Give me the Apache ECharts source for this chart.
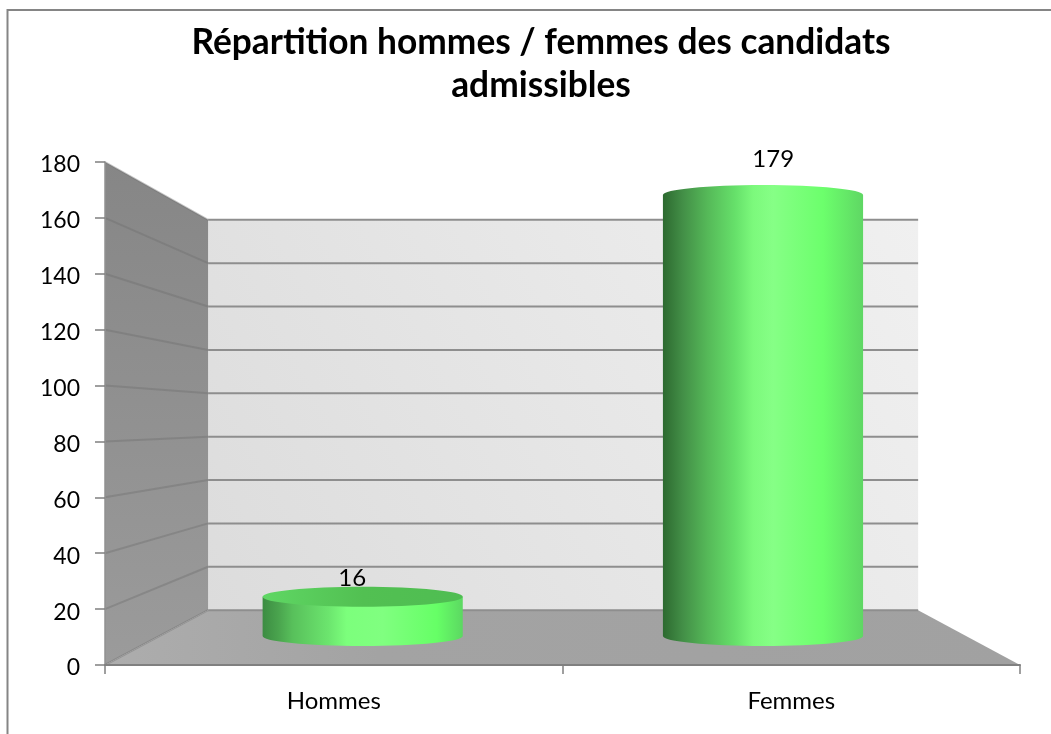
<!DOCTYPE html>
<html>
<head>
<meta charset="utf-8">
<style>
    html, body { margin: 0; padding: 0; background: #fff; }
    #chart { width: 1051px; height: 734px; }
</style>
<script src="https://cdn.jsdelivr.net/npm/echarts@6/dist/echarts.min.js"></script>
</head>
<body>
<div id="chart"></div>
<script>
var titleText = 'Répartition hommes / femmes des candidats\nadmissibles';
var categories = ['Hommes', 'Femmes'];
var values = [16, 179];
var gridValues = [0, 20, 40, 60, 80, 100, 120, 140, 160, 180];

// fake 3D: every depth plane is the front plane shrunk toward a vanishing point
var backDepth = 0.776;
var barDepthX = 0.875;
var barDepthY = 0.882;
var labelDepth = 0.92;
var vanishX = 0.503; // share of grid width
var vanishY = 0.487; // share of grid height, from the bottom

function project(sys, p, depth) {
    var vx = sys.x + sys.width * vanishX;
    var vy = sys.y + sys.height * (1 - vanishY);
    return [vx + (p[0] - vx) * depth, vy + (p[1] - vy) * depth];
}

function horizontal(stops) {
    return new echarts.graphic.LinearGradient(0, 0, 1, 0, stops.map(function (s) {
        return { offset: s[0], color: s[1] };
    }));
}

var tallStops = [
    [0, '#2d6a30'], [0.1, '#438f47'], [0.22, '#55b858'], [0.36, '#66e06a'],
    [0.45, '#7cf97c'], [0.55, '#86ff86'], [0.8, '#6cff6c'], [1, '#5fd764']
];
var flatStops = [
    [0, '#3c8c42'], [0.08, '#4aa44e'], [0.15, '#58c05b'], [0.33, '#6ce56e'],
    [0.42, '#7cff7c'], [0.6, '#80ff80'], [0.87, '#66ff66'], [1, '#5cd862']
];
var flatTopStops = [
    [0, '#5fd764'], [0.5, '#52c052'], [1, '#4fbd52']
];

function renderRoom(params, api) {
    var sys = params.coordSys;
    var fl = [sys.x, sys.y + sys.height];
    var fr = [sys.x + sys.width, sys.y + sys.height];
    var tl = [sys.x, sys.y];
    var tr = [sys.x + sys.width, sys.y];
    var bfl = project(sys, fl, backDepth);
    var bfr = project(sys, fr, backDepth);
    var btl = project(sys, tl, backDepth);
    var btr = project(sys, tr, backDepth);
    return {
        type: 'group',
        silent: true,
        children: [{
            type: 'polygon',
            shape: { points: [bfl, bfr, btr, btl] },
            style: { fill: new echarts.graphic.LinearGradient(0, 1, 1, 0, [
                { offset: 0, color: '#dcdcdc' }, { offset: 1, color: '#f0f0f0' }
            ]) }
        }, {
            type: 'polygon',
            shape: { points: [fl, tl, btl, bfl] },
            style: { fill: new echarts.graphic.LinearGradient(0, 0, 0, 1, [
                { offset: 0, color: '#868686' }, { offset: 1, color: '#9b9b9b' }
            ]) }
        }, {
            type: 'polygon',
            shape: { points: [fl, fr, bfr, bfl] },
            style: { fill: horizontal([[0, '#adadad'], [0.3, '#a3a3a3'], [1, '#a1a1a1']]) }
        }]
    };
}

function renderGridLine(params, api) {
    var sys = params.coordSys;
    var y = api.coord([0, api.value(0)])[1];
    var front = [sys.x, y];
    var back = project(sys, front, backDepth);
    var backEnd = project(sys, [sys.x + sys.width, y], backDepth);
    return {
        type: 'group',
        silent: true,
        children: [{
            type: 'line',
            shape: { x1: front[0], y1: front[1], x2: back[0], y2: back[1] },
            style: { stroke: '#6e6e6e', lineWidth: 2, opacity: 0.4 }
        }, {
            type: 'line',
            shape: { x1: back[0], y1: back[1], x2: backEnd[0], y2: backEnd[1] },
            style: { stroke: '#8e8e8e', lineWidth: 2 }
        }]
    };
}

function renderCylinder(params, api) {
    var sys = params.coordSys;
    var index = api.value(0);
    var front = api.coord([index, 0]);
    var cx = project(sys, front, barDepthX)[0];
    var baseY = project(sys, front, barDepthY)[1];
    var topY = project(sys, api.coord([index, api.value(1)]), barDepthY)[1];
    var rx = api.size([1, 0])[0] * barDepthX * 0.25;
    var ry = 10;
    var left = cx - rx;
    var right = cx + rx;
    var k = 0.5523;
    var bodyPath = 'M' + left + ' ' + topY + 'L' + left + ' ' + baseY
        + 'C' + left + ' ' + (baseY + ry * k) + ' ' + (cx - rx * k) + ' ' + (baseY + ry) + ' ' + cx + ' ' + (baseY + ry)
        + 'C' + (cx + rx * k) + ' ' + (baseY + ry) + ' ' + right + ' ' + (baseY + ry * k) + ' ' + right + ' ' + baseY
        + 'L' + right + ' ' + topY + 'Z';
    var flat = api.value(1) < 40;
    var labelPos = project(sys, api.coord([index, api.value(1)]), labelDepth);
    return {
        type: 'group',
        children: [{
            type: 'path',
            shape: { pathData: bodyPath, x: left, y: topY, width: rx * 2, height: baseY + ry - topY, layout: 'cover' },
            style: { fill: horizontal(flat ? flatStops : tallStops) }
        }, {
            type: 'ellipse',
            shape: { cx: cx, cy: topY, rx: rx, ry: ry },
            style: { fill: horizontal(flat ? flatTopStops : tallStops) }
        }, {
            type: 'text',
            style: {
                text: String(api.value(1)),
                x: labelPos[0],
                y: labelPos[1] - 26,
                align: 'center',
                verticalAlign: 'middle',
                font: '24px Lato',
                fill: '#000'
            }
        }]
    };
}

var chart = echarts.init(document.getElementById('chart'), null, { renderer: 'canvas' });
chart.setOption({
    animation: false,
    backgroundColor: '#fff',
    title: {
        text: titleText,
        left: 536,
        top: 16,
        textAlign: 'center',
        textStyle: { fontFamily: 'Lato', fontWeight: 'bold', fontSize: 35.3, lineHeight: 43, color: '#000' }
    },
    graphic: {
        elements: [{
            type: 'polyline',
            silent: true,
            shape: { points: [[1051, 10], [7.5, 10], [7.5, 734]] },
            style: { fill: 'none', stroke: '#858585', lineWidth: 2 }
        }]
    },
    grid: { left: 105, right: 31, top: 162, bottom: 69 },
    xAxis: {
        type: 'category',
        data: categories,
        axisLine: { show: true, lineStyle: { color: '#808080', width: 2 } },
        axisTick: { show: true, length: 9, lineStyle: { color: '#808080', width: 1.5 } },
        axisLabel: { margin: 24, fontFamily: 'Lato', fontSize: 24, color: '#000' },
        z: 5
    },
    yAxis: {
        type: 'value',
        min: 0,
        max: 180,
        interval: 20,
        axisLine: { show: true, lineStyle: { color: '#909090', width: 1.5 } },
        axisTick: { show: true, length: 10, lineStyle: { color: '#808080', width: 1.5 } },
        axisLabel: {
            margin: 25,
            formatter: '{tick|{value}}',
            rich: { tick: { padding: [6, 0, 0, 0], fontFamily: 'Lato', fontSize: 23, color: '#000' } }
        },
        splitLine: { show: false },
        z: 5
    },
    series: [{
        type: 'custom',
        coordinateSystem: 'cartesian2d',
        renderItem: renderRoom,
        data: [[0, 0]],
        silent: true,
        z: 1
    }, {
        type: 'custom',
        coordinateSystem: 'cartesian2d',
        renderItem: renderGridLine,
        data: gridValues.map(function (v) { return [v]; }),
        encode: { y: 0 },
        silent: true,
        z: 2
    }, {
        type: 'custom',
        coordinateSystem: 'cartesian2d',
        renderItem: renderCylinder,
        data: values.map(function (v, i) { return [i, v]; }),
        encode: { x: 0, y: 1 },
        z: 3
    }]
});
</script>
</body>
</html>
